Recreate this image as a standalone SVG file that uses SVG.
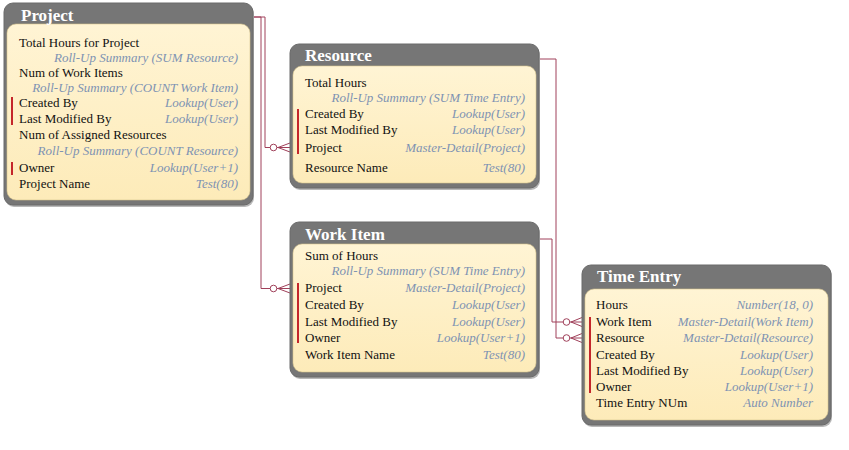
<svg xmlns="http://www.w3.org/2000/svg" width="849" height="450" viewBox="0 0 849 450">
<defs>
<linearGradient id="cream" x1="0" y1="0" x2="0" y2="1">
<stop offset="0" stop-color="#fff4d4"/>
<stop offset="1" stop-color="#fdebb9"/>
</linearGradient>
<style>
.frame{fill:#767676;stroke:#6a6a6a;stroke-width:1}
.shadow{fill:#b8b8b8}
.panel{fill:url(#cream);stroke:#d9c68f;stroke-width:0.6}
.title{font-family:"Liberation Serif",serif;font-weight:bold;font-size:17px;fill:#ffffff}
.fld{font-family:"Liberation Serif",serif;font-size:13px;fill:#111111}
.typ{font-family:"Liberation Serif",serif;font-style:italic;font-size:13px;fill:#7e93b3;text-anchor:end}
.bar{stroke:#c4262b;stroke-width:2}
.conn{fill:none;stroke:#a0405a;stroke-width:1}
.circ{fill:#ffffff;stroke:#a0405a;stroke-width:1}
</style>
</defs>
<rect width="849" height="450" fill="#ffffff"/>

<g id="connectors">
<path class="conn" d="M253,17 H265 V147.5 H290"/>
<circle class="circ" cx="273.5" cy="147.5" r="3.3"/>
<path class="conn" d="M278,147.5 L290,143 M278,147.5 L290,152"/>

<path class="conn" d="M253,17 H261 V288.5 H290"/>
<circle class="circ" cx="273.5" cy="288.5" r="3.3"/>
<path class="conn" d="M278,288.5 L290,284 M278,288.5 L290,293"/>

<path class="conn" d="M539,59 H556 V338 H582"/>
<circle class="circ" cx="566.5" cy="338" r="3.3"/>
<path class="conn" d="M571,338 L582,333.5 M571,338 L582,342.5"/>

<path class="conn" d="M539,239 H552 V322 H582"/>
<circle class="circ" cx="566.5" cy="322" r="3.3"/>
<path class="conn" d="M571,322 L582,317.5 M571,322 L582,326.5"/>
</g>

<g id="project">
<rect class="shadow" x="5" y="5" width="249" height="202" rx="9"/>
<rect class="frame" x="4" y="3" width="249" height="202" rx="9"/>
<rect class="panel" x="7" y="24" width="243" height="176" rx="9"/>
<text class="title" x="21" y="21">Project</text>
<text class="fld" x="19" y="47">Total Hours for Project</text>
<text class="typ" x="238" y="62">Roll-Up Summary (SUM Resource)</text>
<text class="fld" x="19" y="77">Num of Work Items</text>
<text class="typ" x="238" y="92">Roll-Up Summary (COUNT Work Item)</text>
<text class="fld" x="19" y="107">Created By</text>
<text class="typ" x="238" y="107">Lookup(User)</text>
<text class="fld" x="19" y="123">Last Modified By</text>
<text class="typ" x="238" y="123">Lookup(User)</text>
<text class="fld" x="19" y="139">Num of Assigned Resources</text>
<text class="typ" x="238" y="155">Roll-Up Summary (COUNT Resource)</text>
<text class="fld" x="19" y="172">Owner</text>
<text class="typ" x="238" y="172">Lookup(User+1)</text>
<text class="fld" x="19" y="188">Project Name</text>
<text class="typ" x="238" y="188">Test(80)</text>
<line class="bar" x1="12" y1="97" x2="12" y2="125"/>
<line class="bar" x1="12" y1="162" x2="12" y2="175"/>
</g>

<g id="resource">
<rect class="shadow" x="291" y="46" width="249" height="144" rx="9"/>
<rect class="frame" x="290" y="44" width="249" height="144" rx="9"/>
<rect class="panel" x="293" y="66" width="243" height="117" rx="9"/>
<text class="title" x="305" y="61">Resource</text>
<text class="fld" x="305" y="87">Total Hours</text>
<text class="typ" x="525" y="102">Roll-Up Summary (SUM Time Entry)</text>
<text class="fld" x="305" y="118">Created By</text>
<text class="typ" x="525" y="118">Lookup(User)</text>
<text class="fld" x="305" y="134">Last Modified By</text>
<text class="typ" x="525" y="134">Lookup(User)</text>
<text class="fld" x="305" y="152">Project</text>
<text class="typ" x="525" y="152">Master-Detail(Project)</text>
<text class="fld" x="305" y="172">Resource Name</text>
<text class="typ" x="525" y="172">Test(80)</text>
<line class="bar" x1="298" y1="109" x2="298" y2="154"/>
</g>

<g id="work-item">
<rect class="shadow" x="291" y="224" width="249" height="155" rx="9"/>
<rect class="frame" x="290" y="222" width="249" height="155" rx="9"/>
<rect class="panel" x="293" y="244" width="243" height="128" rx="9"/>
<text class="title" x="305" y="240">Work Item</text>
<text class="fld" x="305" y="260">Sum of Hours</text>
<text class="typ" x="525" y="275">Roll-Up Summary (SUM Time Entry)</text>
<text class="fld" x="305" y="292">Project</text>
<text class="typ" x="525" y="292">Master-Detail(Project)</text>
<text class="fld" x="305" y="309">Created By</text>
<text class="typ" x="525" y="309">Lookup(User)</text>
<text class="fld" x="305" y="326">Last Modified By</text>
<text class="typ" x="525" y="326">Lookup(User)</text>
<text class="fld" x="305" y="342">Owner</text>
<text class="typ" x="525" y="342">Lookup(User+1)</text>
<text class="fld" x="305" y="359">Work Item Name</text>
<text class="typ" x="525" y="359">Test(80)</text>
<line class="bar" x1="298" y1="283" x2="298" y2="343"/>
</g>

<g id="time-entry">
<rect class="shadow" x="583" y="267" width="249" height="160" rx="9"/>
<rect class="frame" x="582" y="265" width="249" height="160" rx="9"/>
<rect class="panel" x="585" y="289" width="243" height="131" rx="9"/>
<text class="title" x="597" y="282">Time Entry</text>
<text class="fld" x="596" y="309">Hours</text>
<text class="typ" x="813" y="309">Number(18, 0)</text>
<text class="fld" x="596" y="326">Work Item</text>
<text class="typ" x="813" y="326">Master-Detail(Work Item)</text>
<text class="fld" x="596" y="342">Resource</text>
<text class="typ" x="813" y="342">Master-Detail(Resource)</text>
<text class="fld" x="596" y="359">Created By</text>
<text class="typ" x="813" y="359">Lookup(User)</text>
<text class="fld" x="596" y="375">Last Modified By</text>
<text class="typ" x="813" y="375">Lookup(User)</text>
<text class="fld" x="596" y="391">Owner</text>
<text class="typ" x="813" y="391">Lookup(User+1)</text>
<text class="fld" x="596" y="407">Time Entry NUm</text>
<text class="typ" x="813" y="407">Auto Number</text>
<line class="bar" x1="590" y1="317" x2="590" y2="393"/>
</g>
</svg>
